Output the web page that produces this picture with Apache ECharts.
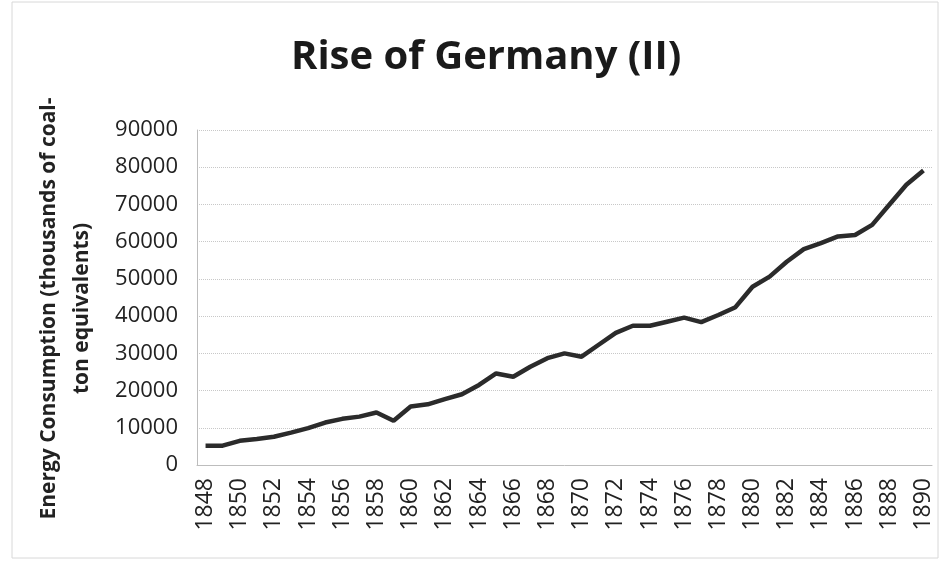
<!DOCTYPE html>
<html>
<head>
<meta charset="utf-8">
<script src="https://cdn.jsdelivr.net/npm/echarts@6/dist/echarts.min.js"></script>
<style>
html,body{margin:0;padding:0;background:#fff;}
#chart{width:943px;height:563px;}
</style>
</head>
<body>
<div id="chart"></div>
<script>
const years = [];
for (let y = 1848; y <= 1890; y++) years.push(String(y));
const consumption = [
  5200, 5200, 6500, 7000, 7600, 8700, 9900, 11400, 12400, 13000,
  14100, 11900, 15700, 16300, 17700, 19000, 21500, 24600, 23700, 26400,
  28700, 30000, 29100, 32300, 35500, 37400, 37400, 38500, 39600, 38400,
  40300, 42400, 47900, 50600, 54600, 58000, 59600, 61400, 61800, 64500,
  69900, 75300, 79100
];
const titleText = 'Rise of Germany (II)';
const yName = 'Energy Consumption (thousands of coal-\nton equivalents)';

const chart = echarts.init(document.getElementById('chart'));
chart.setOption({
  backgroundColor: '#ffffff',
  animation: false,
  title: {
    text: titleText,
    left: 286,
    top: 33,
    textStyle: {fontFamily: 'Open Sans', fontWeight: 'bold', fontSize: 40, color: '#1a1a1a'}
  },
  graphic: [{
    type: 'rect',
    shape: {x: 12, y: 2, width: 926, height: 556},
    style: {fill: 'none', stroke: '#d8d8d8', lineWidth: 1},
    silent: true
  }],
  grid: {left: 197, right: 11, top: 130, bottom: 98, containLabel: false, outerBoundsMode: 'none'},
  xAxis: {
    type: 'category',
    data: years,
    boundaryGap: true,
    axisLine: {lineStyle: {color: '#bdbdbd'}},
    axisTick: {show: false},
    axisLabel: {
      interval: 1,
      rotate: 90,
      fontFamily: 'Open Sans',
      fontSize: 23,
      color: '#222',
      margin: 13
    }
  },
  yAxis: {
    type: 'value',
    min: 0,
    max: 90000,
    interval: 10000,
    name: yName,
    nameLocation: 'middle',
    nameRotate: 90,
    nameGap: 98,
    nameTextStyle: {fontFamily: 'Open Sans', fontWeight: 'bold', fontSize: 21, color: '#222', lineHeight: 33, align: 'center', padding: [0, 22, 0, 0]},
    axisLine: {show: true, lineStyle: {color: '#bdbdbd'}},
    axisTick: {show: false},
    splitLine: {lineStyle: {color: '#c8c8c8', type: 'dotted', width: 1}},
    axisLabel: {fontFamily: 'Open Sans', fontSize: 22, color: '#222', margin: 19, formatter: v => String(v)}
  },
  series: [{
    type: 'line',
    data: consumption,
    symbol: 'none',
    lineStyle: {color: '#2b2b2b', width: 4.5},
    itemStyle: {color: '#2b2b2b'}
  }]
});
</script>
</body>
</html>
